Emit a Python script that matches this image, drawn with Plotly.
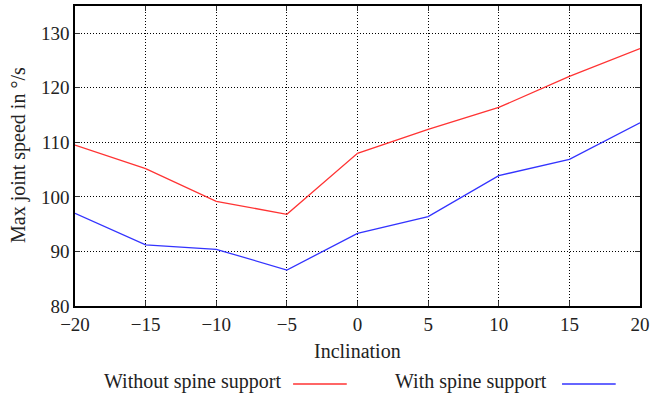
import plotly.graph_objects as go

inclination = [-20, -15, -10, -5, 0, 5, 10, 15, 20]
without_support = [109.5, 105.2, 99.2, 96.8, 108.0, 112.4, 116.4, 122.1, 127.2]
with_support = [97.0, 91.2, 90.4, 86.6, 93.3, 96.4, 103.9, 106.9, 113.6]
series_names = ["Without spine support", "With spine support"]
series_colors = ["#ff3333", "#3333ff"]
x_ticks = [-20, -15, -10, -5, 0, 5, 10, 15, 20]
y_ticks = [80, 90, 100, 110, 120, 130]
x_title = "Inclination"
y_title = "Max joint speed in °/s"

FONT = "Liberation Serif"
TXT = "#222222"

fig = go.Figure()
for name, vals, col in zip(series_names, [without_support, with_support], series_colors):
    fig.add_trace(go.Scatter(x=inclination, y=vals, mode="lines", name=name,
                             line=dict(color=col, width=1.3), showlegend=False))

axis_common = dict(
    showline=True, linecolor="black", linewidth=1.5, mirror="ticks",
    ticks="inside", ticklen=5, tickcolor="#333333", tickwidth=1.2,
    showgrid=True, gridcolor="black", gridwidth=1, griddash="1px,2px",
    zeroline=False, automargin=False, tickfont=dict(family=FONT, size=19, color=TXT),
)

fig.update_xaxes(range=[-20, 20], tickvals=x_ticks, **axis_common)
fig.update_yaxes(range=[80, 135], tickvals=y_ticks, **axis_common)

# axis titles
fig.add_annotation(xref="paper", yref="paper", x=0.5, y=-0.15, text=x_title,
                   showarrow=False, xanchor="center", yanchor="middle",
                   font=dict(family=FONT, size=20, color=TXT))
fig.add_annotation(xref="paper", yref="paper", x=-0.101, y=0.503, text=y_title,
                   showarrow=False, xanchor="center", yanchor="middle", textangle=-90,
                   font=dict(family=FONT, size=20, color=TXT))

# legend drawn below the plot: text followed by line sample
legend_text_right = [0.368, 0.839]
legend_line_x = [(0.386, 0.481), (0.862, 0.957)]
for name, col, xr, (x0, x1) in zip(series_names, series_colors, legend_text_right, legend_line_x):
    fig.add_annotation(xref="paper", yref="paper", x=xr, y=-0.253, text=name,
                       showarrow=False, xanchor="right", yanchor="middle",
                       font=dict(family=FONT, size=20, color=TXT))
    fig.add_shape(type="line", xref="paper", yref="paper", x0=x0, x1=x1, y0=-0.26, y1=-0.26,
                  line=dict(color=col, width=1.5))

fig.update_layout(
    width=650, height=396,
    margin=dict(l=75, r=10, t=6, b=90),
    paper_bgcolor="white", plot_bgcolor="white",
    font=dict(family=FONT, size=19, color=TXT),
)

fig.write_html("out.html", config={"displayModeBar": False},
               post_script="document.body.style.margin='0';")
